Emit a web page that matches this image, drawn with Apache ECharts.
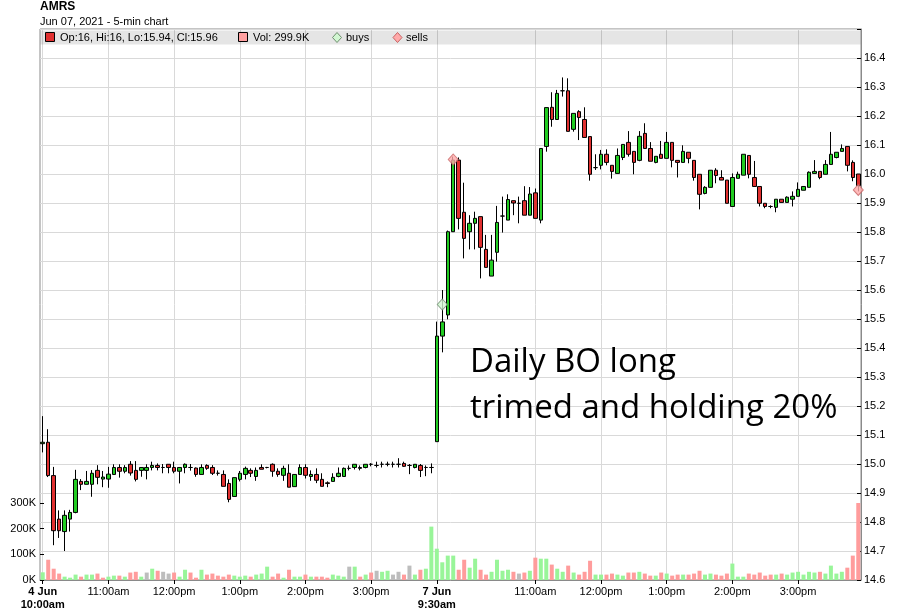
<!DOCTYPE html>
<html><head><meta charset="utf-8">
<script src="https://cdn.jsdelivr.net/npm/echarts/dist/echarts.min.js"></script>
<style>html,body{margin:0;padding:0;background:#fff}#c{width:900px;height:616px}</style>
</head><body><div id="c"></div>
<script>
// ---- DATA ----
const open = [
15.07,15.075,14.96,14.81,14.767,14.81,14.833,14.94,14.93,14.93,14.978,14.948,14.948,14.964,14.988,14.975,14.999,14.978,14.978,14.978,
14.988,14.995,14.988,14.999,14.988,14.975,14.988,14.988,14.986,14.964,14.995,14.988,14.968,14.964,14.933,14.888,14.947,14.964,14.978,14.957,
14.988,14.988,14.999,14.975,14.961,14.968,14.922,14.964,14.988,14.957,14.964,14.947,14.935,14.94,14.957,14.957,14.985,14.988,14.985,14.988,
14.999,14.995,14.999,14.999,14.999,14.999,15.002,14.995,14.988,14.995,14.988,14.988,
15.077,15.441,15.514,15.801,16.048,15.868,15.801,15.83,15.853,15.74,15.648,15.73,15.855,15.841,15.908,15.899,15.908,15.858,15.935,15.841,
16.095,16.23,16.188,16.287,16.287,16.154,16.215,16.188,16.129,16.022,16.03,16.068,16.03,16.002,16.057,16.109,16.078,16.047,16.14,16.088,
16.04,16.068,16.054,16.109,16.047,16.04,16.075,16.047,15.999,15.933,15.954,16.013,15.988,15.979,15.888,15.985,15.996,16.064,15.988,15.957,
15.899,15.888,15.885,15.913,15.902,15.913,15.923,15.944,15.954,16.002,16.009,15.999,16.033,16.057,16.078,16.095,16.04,16.0];
const high = [
15.165,15.12,14.99,14.84,14.84,14.842,14.98,14.948,14.976,14.979,14.996,14.976,14.99,14.999,14.999,14.996,15.01,15.01,14.988,14.999,
15.008,15.002,15.0,14.999,15.008,14.988,15.002,15.0,14.988,14.999,14.999,14.996,14.978,14.978,14.947,14.953,14.976,14.991,14.985,14.988,
14.999,14.99,15.002,14.985,14.994,14.999,14.964,14.999,14.999,14.978,14.985,14.968,14.94,14.968,14.988,14.988,14.995,14.999,14.995,14.999,
15.003,15.008,15.008,15.008,15.008,15.02,15.008,15.0,15.0,15.0,14.995,15.002,
15.491,15.60,15.805,16.06,16.057,15.97,15.858,15.87,15.853,15.79,15.79,15.89,15.922,15.93,15.908,15.922,15.958,15.955,15.95,16.088,
16.229,16.282,16.29,16.333,16.33,16.209,16.22,16.23,16.129,16.068,16.083,16.085,16.03,16.088,16.102,16.148,16.078,16.148,16.175,16.11,
16.061,16.114,16.145,16.109,16.047,16.099,16.075,16.047,15.999,15.958,16.013,16.02,16.013,15.979,16.002,16.008,16.068,16.064,16.045,15.957,
15.899,15.892,15.913,15.913,15.923,15.94,15.971,15.957,16.009,16.048,16.009,16.048,16.145,16.075,16.102,16.095,16.047,16.0];
const low = [
15.04,14.955,14.72,14.745,14.70,14.767,14.83,14.91,14.93,14.887,14.93,14.92,14.918,14.962,14.953,14.968,14.96,14.94,14.956,14.947,
14.978,14.978,14.968,14.968,14.968,14.933,14.968,14.977,14.956,14.964,14.98,14.962,14.96,14.923,14.868,14.888,14.94,14.947,14.955,14.942,
14.982,14.985,14.956,14.956,14.942,14.92,14.922,14.964,14.95,14.942,14.934,14.923,14.92,14.94,14.954,14.957,14.978,14.981,14.978,14.985,
14.992,14.988,14.988,14.992,14.988,14.988,14.99,14.965,14.985,14.955,14.958,14.968,
15.077,15.385,15.499,15.80,15.809,15.709,15.74,15.74,15.64,15.678,15.648,15.698,15.798,15.841,15.858,15.83,15.858,15.858,15.847,15.83,
16.077,16.163,16.188,16.267,16.147,16.146,16.117,16.126,15.977,16.014,16.016,16.03,15.984,16.002,16.048,16.06,15.999,16.044,16.088,16.044,
16.037,16.054,16.054,16.023,15.988,16.04,16.037,15.977,15.878,15.93,15.954,15.968,15.979,15.899,15.888,15.985,15.996,15.985,15.957,15.888,
15.882,15.882,15.868,15.902,15.902,15.888,15.923,15.944,15.954,16.002,15.982,15.999,16.033,16.054,16.078,16.009,15.975,15.94];
const close = [
15.075,14.96,14.77,14.77,14.823,14.833,14.947,14.93,14.94,14.968,14.954,14.955,14.965,14.988,14.975,14.988,14.969,14.947,14.988,14.988,
14.995,14.988,14.988,14.988,14.975,14.988,14.999,14.988,14.964,14.988,14.985,14.968,14.968,14.923,14.878,14.953,14.968,14.985,14.968,14.978,
14.982,14.988,14.975,14.964,14.985,14.92,14.964,14.988,14.961,14.964,14.944,14.923,14.933,14.954,14.968,14.985,14.985,14.999,14.988,14.999,
14.999,14.995,14.999,14.999,14.999,14.999,14.992,14.995,14.999,14.978,14.988,14.988,
15.441,15.49,15.801,16.048,15.847,15.778,15.83,15.847,15.747,15.678,15.703,15.833,15.855,15.912,15.9,15.899,15.858,15.931,15.847,16.088,
16.229,16.188,16.278,16.287,16.147,16.209,16.195,16.126,15.999,16.022,16.068,16.04,16.009,16.064,16.102,16.068,16.04,16.13,16.088,16.044,
16.061,16.054,16.109,16.047,16.04,16.078,16.054,15.988,15.93,15.954,16.013,15.995,15.979,15.899,15.988,15.999,16.068,15.999,15.957,15.899,
15.888,15.888,15.913,15.902,15.92,15.923,15.947,15.957,16.006,16.009,15.988,16.033,16.068,16.075,16.088,16.03,15.988,15.96];
// volume in thousands
const volumeK = [
30,79,44,25,13,9,21,13,21,21,25,9,13,17,17,13,29,32,13,29,44,36,32,25,29,13,40,29,9,40,21,25,17,13,21,17,13,17,13,21,
25,52,13,25,9,40,13,13,21,13,13,13,9,21,17,13,52,52,13,21,29,36,32,36,21,32,21,56,21,40,44,208,
122,69,95,95,40,79,48,83,40,21,32,79,36,40,32,25,29,36,87,83,83,60,44,32,56,29,21,32,75,21,
21,21,25,21,17,29,29,32,25,17,17,29,25,17,21,21,21,25,36,21,25,21,17,25,64,13,13,25,21,29,
17,21,21,25,21,29,32,21,32,29,32,25,56,25,32,48,95,299.9];
// volume colour: 1 up, -1 down, 0 unchanged
const volDir = [
1,-1,-1,-1,1,1,1,-1,1,1,-1,-1,1,1,-1,1,-1,-1,1,0,1,-1,0,0,-1,1,1,-1,-1,1,-1,-1,-1,-1,-1,1,1,1,-1,1,
1,1,-1,-1,1,-1,1,1,-1,1,-1,-1,-1,1,1,1,0,1,-1,1,-1,0,1,1,0,0,-1,0,1,-1,1,1,
1,1,1,1,-1,-1,1,1,-1,-1,1,1,1,1,-1,0,-1,1,-1,1,1,-1,1,1,-1,1,-1,-1,-1,1,
1,-1,-1,1,1,-1,-1,1,-1,-1,1,-1,1,-1,-1,1,-1,-1,-1,1,1,-1,-1,-1,1,1,1,-1,-1,-1,
-1,-1,1,-1,1,1,1,1,1,1,-1,1,1,1,1,-1,-1,-1];
const buys = [[73, 15.55]];
const sells = [[75, 16.05], [149, 15.945]];
// time categories: 4 Jun 10:00..15:55, 7 Jun 9:30..15:55 (5-min bars)
const days = [{d:'4 Jun', start:600, n:72}, {d:'7 Jun', start:570, n:78}];
const categories = [];
days.forEach(function(dy){ for (let k=0;k<dy.n;k++){ const m=dy.start+5*k; categories.push(dy.d+' '+Math.floor(m/60)+':'+String(m%60).padStart(2,'0')); } });
const tickIdx = [0,12,24,36,48,60,72,90,102,114,126,138];
const tickText = ['4 Jun|10:00am','11:00am','12:00pm','1:00pm','2:00pm','3:00pm','7 Jun|9:30am','11:00am','12:00pm','1:00pm','2:00pm','3:00pm'];
const priceTicksMax = 16.4;
const volTicksMax = 300;
const titleText = 'AMRS';
const subText = 'Jun 07, 2021 - 5-min chart';
const legendOHLC = 'Op:16, Hi:16, Lo:15.94, Cl:15.96';
const legendVol = 'Vol: 299.9K';
const noteLines = ['Daily BO long', 'trimed and holding 20%'];

// ---- CHART ----
const FONT = '"Liberation Sans", Arial, Helvetica, sans-serif';
const isTick = function(i){ return tickIdx.indexOf(i) >= 0; };
const chart = echarts.init(document.getElementById('c'), null, {renderer:'canvas'});
const candleData = open.map(function(o,i){ return [o, close[i], low[i], high[i]]; });
const volData = volumeK.map(function(v,i){
  return {value: v*1000, itemStyle:{color: volDir[i]>0 ? '#99f599' : (volDir[i]<0 ? '#ff9c9c' : '#bdbdbd')}};
});
const L = 40, R = 39, T = 29, B = 36;

const option = {
  animation: false,
  backgroundColor: '#ffffff',
  textStyle: {fontFamily: FONT},
  grid: [
    {left:L, right:R, top:T, bottom:B, show:true, borderColor:'#8a8a8a', borderWidth:1, backgroundColor:'rgba(0,0,0,0)', containLabel:false, outerBoundsMode:'none'},
    {left:L, right:R, top:503, bottom:B, show:false, containLabel:false, outerBoundsMode:'none'}
  ],
  xAxis: [
    {type:'category', gridIndex:0, data:categories, boundaryGap:true,
     axisLine:{show:true, lineStyle:{color:'#8a8a8a', width:1}},
     axisTick:{show:true, alignWithLabel:true, interval:function(i){return isTick(i);}, length:4, lineStyle:{color:'#000'}},
     axisLabel:{show:true, interval:function(i){return isTick(i);}, color:'#000', fontSize:11, fontFamily:FONT, margin:5, lineHeight:13,
       formatter:function(v, i){ const t = tickText[tickIdx.indexOf(i)] || ''; if (t.indexOf('|')>=0){ const p=t.split('|'); return '{b|'+p[0]+'}\n{b|'+p[1]+'}'; } return t; },
       rich:{b:{fontWeight:'bold', fontSize:11, fontFamily:FONT, color:'#000', lineHeight:13}}},
     splitLine:{show:true, alignWithLabel:true, interval:function(i){return isTick(i);}, lineStyle:{color:'#d9d9d9', width:1}}},
    {type:'category', gridIndex:1, data:categories, boundaryGap:true, show:false,
     axisLine:{show:false}, axisTick:{show:false}, axisLabel:{show:false}, splitLine:{show:false}}
  ],
  yAxis: [
    {type:'value', gridIndex:0, position:'right', min:14.6, max:16.5, interval:0.1, scale:true,
     axisLine:{show:true, lineStyle:{color:'#8a8a8a'}},
     axisTick:{show:true, inside:true, length:4, lineStyle:{color:'#000'}},
     axisLabel:{show:true, color:'#000', fontSize:11, fontFamily:FONT, margin:3,
       formatter:function(v){ return v > priceTicksMax + 0.05 ? '' : v.toFixed(1); }},
     splitLine:{show:true, lineStyle:{color:'#d9d9d9', width:1}}},
    {type:'value', gridIndex:1, position:'left', min:0, max:volTicksMax*1000, interval:100000,
     axisLine:{show:false},
     axisTick:{show:true, inside:true, length:4, lineStyle:{color:'#000'}},
     axisLabel:{show:true, color:'#000', fontSize:11, fontFamily:FONT, margin:4,
       formatter:function(v){ return Math.round(v/1000)+'K'; }},
     splitLine:{show:false}}
  ],
  series: [
    {type:'bar', xAxisIndex:1, yAxisIndex:1, data:volData, barWidth:4, z:1},
    {type:'candlestick', xAxisIndex:0, yAxisIndex:0, data:candleData, barWidth:4, z:3,
     itemStyle:{color:'#22cc22', color0:'#e03030', borderColor:'#000', borderColor0:'#000', borderColorDoji:'#000', borderWidth:1}},
    {type:'scatter', xAxisIndex:0, yAxisIndex:0, data:buys, symbol:'diamond', symbolSize:[10,11], z:5,
     itemStyle:{color:'#d2f7d2', borderColor:'#6f8f6f', borderWidth:1}},
    {type:'scatter', xAxisIndex:0, yAxisIndex:0, data:sells, symbol:'diamond', symbolSize:[10,11], z:5,
     itemStyle:{color:'#ffaaaa', borderColor:'#c86464', borderWidth:1}}
  ],
  graphic: [
    {type:'text', left:40, top:1, style:{text:titleText, font:'bold 12px '+FONT, fill:'#000'}},
    {type:'text', left:40, top:16, style:{text:subText, font:'11px '+FONT, fill:'#000'}},
    {type:'rect', shape:{x:40.5, y:30.5, width:820, height:14}, style:{fill:'rgba(0,0,0,0.1)'}, z:10},
    {type:'rect', shape:{x:45.5, y:32.5, width:9, height:9}, style:{fill:'#e03030', stroke:'#000', lineWidth:1}, z:11},
    {type:'text', x:60, y:38, style:{text:legendOHLC, font:'11px '+FONT, fill:'#000', textVerticalAlign:'middle'}, z:11},
    {type:'rect', shape:{x:238.5, y:32.5, width:9, height:9}, style:{fill:'#ffa0a0', stroke:'#000', lineWidth:1}, z:11},
    {type:'text', x:253, y:38, style:{text:legendVol, font:'11px '+FONT, fill:'#000', textVerticalAlign:'middle'}, z:11},
    {type:'polygon', shape:{points:[[337,32.5],[341.5,37.5],[337,42.5],[332.5,37.5]]}, style:{fill:'#d2f7d2', stroke:'#6f8f6f', lineWidth:1}, z:11},
    {type:'text', x:346, y:38, style:{text:'buys', font:'11px '+FONT, fill:'#000', textVerticalAlign:'middle'}, z:11},
    {type:'polygon', shape:{points:[[397.5,32.5],[402,37.5],[397.5,42.5],[393,37.5]]}, style:{fill:'#ffaaaa', stroke:'#c86464', lineWidth:1}, z:11},
    {type:'text', x:406, y:38, style:{text:'sells', font:'11px '+FONT, fill:'#000', textVerticalAlign:'middle'}, z:11},
    {type:'text', x:470, y:340, style:{text:noteLines.join('\n'), font:'33px "Open Sans", sans-serif', fill:'#000', lineHeight:46}, z:12}
  ]
};
chart.setOption(option);
</script>
</body></html>
